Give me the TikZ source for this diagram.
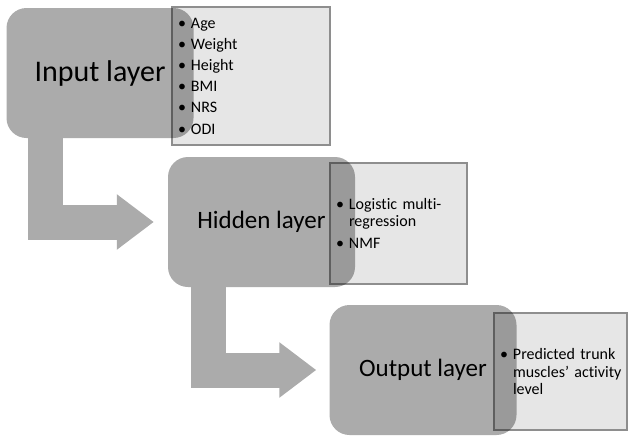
\documentclass[tikz,border=0pt]{standalone}
\usepackage{fontspec}
\setmainfont[Ligatures={TeX,NoCommon}]{Carlito}
\usetikzlibrary{arrows.meta,positioning}
\definecolor{layergray}{HTML}{ABABAB}
\definecolor{listgray}{HTML}{E6E6E6}
\definecolor{edgegray}{HTML}{8E8E8E}
\newcommand{\bul}{\leavevmode\llap{\textbullet\hspace{5pt}}}
\hfuzz=20pt

\begin{document}
\begin{tikzpicture}[x=1pt, y=-1pt,
    layer/.style={rounded corners=20pt, fill=layergray, minimum width=187pt,
      minimum height=130pt, font=\fontsize{25}{30}\selectfont},
    list/.style={fill=listgray, draw=edgegray, line width=2pt, inner xsep=19pt,
      align=left, font=\fontsize{16}{17.5}\selectfont},
    flowarrow/.style={draw=layergray, line width=35pt,
      -{Triangle[width=53pt,length=37pt]}}]
    \useasboundingbox (0,0) rectangle (629,437);
    \node[list, minimum width=158pt, minimum height=138pt, text width=120pt] (inlist) at (251,76)
      {\bul Age\\[3.7pt]\bul Weight\\[3.7pt]\bul Height\\[3.7pt]\bul BMI\\[3.7pt]\bul NRS\\[3.7pt]\bul ODI};
    \node[list, minimum width=137pt, minimum height=121pt, text width=99pt] (hidlist) at (398.5,223.5)
      {\bul Logistic multi-\\regression\\[4.5pt]\bul NMF};
    \node[list, minimum width=133pt, minimum height=117pt, text width=95pt] (outlist) at (560.5,371.5)
      {\bul\mbox{Predicted trunk}\\\mbox{muscles' activity}\\level};
    \begin{scope}[blend mode=multiply]
      \node[layer, font=\fontsize{30}{36}\selectfont] (input) at (100,73) {Input layer};
      \node[layer] (hidden) at (261.5,222) {Hidden layer};
      \node[layer] (output) at (423,370) {Output layer};
    \end{scope}
    \draw[flowarrow] ([xshift=39.5pt]input.south west) |- ([xshift=-14pt]hidden.west);
    \draw[flowarrow] ([xshift=40.5pt]hidden.south west) |- ([xshift=-13pt]output.west);
\end{tikzpicture}
\end{document}
